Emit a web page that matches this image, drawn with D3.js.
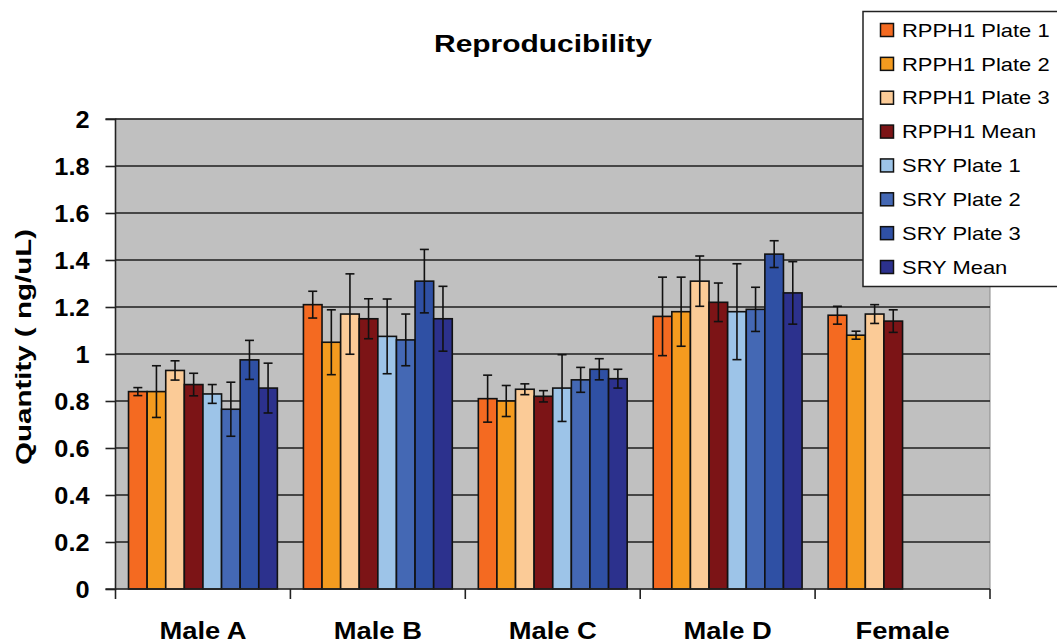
<!DOCTYPE html>
<html>
<head>
<meta charset="utf-8">
<script src="https://cdn.jsdelivr.net/npm/d3@7"></script>
<style>
  html, body { margin: 0; padding: 0; background: #fff; }
  svg { display: block; font-family: Arial, "Liberation Sans", sans-serif; }
</style>
</head>
<body>
<svg id="chart" width="1057" height="644"></svg>
<script>
// ---- Data ----
const categories = ["Male A", "Male B", "Male C", "Male D", "Female"];
const seriesNames = ["RPPH1 Plate 1", "RPPH1 Plate 2", "RPPH1 Plate 3", "RPPH1 Mean",
                     "SRY Plate 1", "SRY Plate 2", "SRY Plate 3", "SRY Mean"];
const seriesColors = ["#F46A21", "#F49B1F", "#FBCB97", "#7C1416",
                      "#9DC4E8", "#4468B4", "#2F50A4", "#2C318D"];

const rpph1Plate1 = [0.84, 1.21, 0.81, 1.16, 1.165];
const rpph1Plate1Err = [0.017, 0.057, 0.10, 0.167, 0.038];
const rpph1Plate2 = [0.84, 1.05, 0.80, 1.18, 1.08];
const rpph1Plate2Err = [0.11, 0.138, 0.066, 0.147, 0.017];
const rpph1Plate3 = [0.93, 1.17, 0.85, 1.31, 1.17];
const rpph1Plate3Err = [0.041, 0.171, 0.023, 0.107, 0.04];
const rpph1Mean = [0.87, 1.15, 0.82, 1.22, 1.14];
const rpph1MeanErr = [0.048, 0.085, 0.024, 0.082, 0.048];
const sryPlate1 = [0.83, 1.075, 0.855, 1.18, null];
const sryPlate1Err = [0.04, 0.159, 0.142, 0.204, null];
const sryPlate2 = [0.765, 1.06, 0.89, 1.19, null];
const sryPlate2Err = [0.115, 0.11, 0.053, 0.094, null];
const sryPlate3 = [0.975, 1.31, 0.935, 1.425, null];
const sryPlate3Err = [0.083, 0.135, 0.045, 0.057, null];
const sryMean = [0.855, 1.15, 0.895, 1.26, null];
const sryMeanErr = [0.106, 0.138, 0.04, 0.133, null];

const yTicks = [0, 0.2, 0.4, 0.6, 0.8, 1, 1.2, 1.4, 1.6, 1.8, 2];
const yTickLabels = ["0", "0.2", "0.4", "0.6", "0.8", "1", "1.2", "1.4", "1.6", "1.8", "2"];

const titleText = "Reproducibility";
const yAxisTitle = "Quantity ( ng/uL)";

const seriesValues = [rpph1Plate1, rpph1Plate2, rpph1Plate3, rpph1Mean,
                      sryPlate1, sryPlate2, sryPlate3, sryMean];
const seriesErrors = [rpph1Plate1Err, rpph1Plate2Err, rpph1Plate3Err, rpph1MeanErr,
                      sryPlate1Err, sryPlate2Err, sryPlate3Err, sryMeanErr];

// ---- Layout ----
const svg = d3.select("#chart");
const plot = { left: 115.5, right: 990, top: 119, bottom: 589 };

const x0 = d3.scaleBand().domain(categories).range([plot.left, plot.right]).paddingInner(0).paddingOuter(0);
const x1 = d3.scaleBand().domain(seriesNames).range([0, x0.bandwidth()]).paddingInner(0).paddingOuter(0.7);
const y = d3.scaleLinear().domain([0, 2]).range([plot.bottom, plot.top]);

// plot background
svg.append("rect")
  .attr("x", plot.left).attr("y", plot.top)
  .attr("width", plot.right - plot.left).attr("height", plot.bottom - plot.top)
  .attr("fill", "#C0C0C0").attr("stroke", "#8a8a8a").attr("stroke-width", 1);

// gridlines
svg.append("g").selectAll("line").data(yTicks.filter(d => d > 0)).join("line")
  .attr("x1", plot.left).attr("x2", plot.right)
  .attr("y1", d => y(d)).attr("y2", d => y(d))
  .attr("stroke", "#1e1e1e").attr("stroke-width", 1.6);

// bars
const flat = [];
seriesNames.forEach((s, si) => {
  categories.forEach((c, ci) => {
    const v = seriesValues[si][ci];
    if (v != null) flat.push({ s, c, v, e: seriesErrors[si][ci], color: seriesColors[si] });
  });
});

const bars = svg.append("g");
bars.selectAll("rect").data(flat).join("rect")
  .attr("x", d => x0(d.c) + x1(d.s))
  .attr("width", x1.bandwidth())
  .attr("y", d => y(d.v))
  .attr("height", d => y(0) - y(d.v))
  .attr("fill", d => d.color)
  .attr("stroke", "#111").attr("stroke-width", 1.6);

// error bars
const eb = svg.append("g").attr("stroke", "#111").attr("stroke-width", 1.6);
const cx = d => x0(d.c) + x1(d.s) + x1.bandwidth() / 2;
eb.selectAll("line.v").data(flat).join("line").attr("class", "v")
  .attr("x1", cx).attr("x2", cx)
  .attr("y1", d => y(d.v + d.e)).attr("y2", d => y(d.v - d.e));
eb.selectAll("line.t").data(flat).join("line").attr("class", "t")
  .attr("x1", d => cx(d) - 4.5).attr("x2", d => cx(d) + 4.5)
  .attr("y1", d => y(d.v + d.e)).attr("y2", d => y(d.v + d.e));
eb.selectAll("line.b").data(flat).join("line").attr("class", "b")
  .attr("x1", d => cx(d) - 4.5).attr("x2", d => cx(d) + 4.5)
  .attr("y1", d => y(d.v - d.e)).attr("y2", d => y(d.v - d.e));

// Y axis
const yAxis = d3.axisLeft(y).tickValues(yTicks).tickSize(10)
  .tickFormat((d, i) => yTickLabels[i]);
const yg = svg.append("g").attr("transform", `translate(${plot.left},0)`).call(yAxis);
yg.select(".domain").attr("stroke", "#222").attr("stroke-width", 1.6).attr("d", `M-10,${plot.top}H0V${plot.bottom + 1}`);
yg.selectAll(".tick line").attr("stroke", "#222").attr("stroke-width", 1.6);
yg.selectAll(".tick text").remove();
yg.selectAll(".tick").append("g")
  .attr("transform", "translate(-26,0) scale(1.1,1)")
  .append("text")
  .attr("text-anchor", "end").attr("dy", "0.36em")
  .attr("fill", "#000").attr("font-size", 23).attr("font-weight", "bold")
  .attr("font-family", "Arial, 'Liberation Sans', sans-serif")
  .text((d, i) => yTickLabels[i]);

// X axis
const xg = svg.append("g").attr("transform", `translate(0,${plot.bottom})`);
xg.append("line").attr("x1", plot.left - 10).attr("x2", plot.right)
  .attr("y1", 0).attr("y2", 0).attr("stroke", "#222").attr("stroke-width", 1.6);
const bounds = categories.map(c => x0(c)).concat([x0(categories[categories.length - 1]) + x0.bandwidth()]);
xg.selectAll("line.tk").data(bounds).join("line").attr("class", "tk")
  .attr("x1", d => d).attr("x2", d => d).attr("y1", 0).attr("y2", 10)
  .attr("stroke", "#222").attr("stroke-width", 1.6);
xg.selectAll("g.lbl").data(categories).join("g").attr("class", "lbl")
  .attr("transform", d => `translate(${x0(d) + x0.bandwidth() / 2},50) scale(1.14,1)`)
  .append("text").attr("text-anchor", "middle")
  .attr("font-size", 24).attr("font-weight", "bold").attr("fill", "#000")
  .text(d => d);

// Title
svg.append("text")
  .attr("x", 543).attr("y", 52)
  .attr("text-anchor", "middle")
  .attr("font-size", 24).attr("font-weight", "bold")
  .attr("textLength", 218).attr("lengthAdjust", "spacingAndGlyphs")
  .text(titleText);

// Y axis title
svg.append("text")
  .attr("transform", "translate(31,347) rotate(-90)")
  .attr("text-anchor", "middle")
  .attr("font-size", 22).attr("font-weight", "bold")
  .attr("textLength", 236).attr("lengthAdjust", "spacingAndGlyphs")
  .text(yAxisTitle);

// Legend
const lg = svg.append("g");
lg.append("rect").attr("x", 863).attr("y", 11.5).attr("width", 260).attr("height", 275)
  .attr("fill", "#fff").attr("stroke", "#222").attr("stroke-width", 1.5);
const rowY = i => 30 + i * 33.86;
lg.selectAll("rect.sw").data(seriesNames).join("rect").attr("class", "sw")
  .attr("x", 880.5).attr("y", (d, i) => rowY(i) - 6.5)
  .attr("width", 13).attr("height", 13)
  .attr("fill", (d, i) => seriesColors[i]).attr("stroke", "#111").attr("stroke-width", 1.5);
lg.selectAll("g.lt").data(seriesNames).join("g").attr("class", "lt")
  .attr("transform", (d, i) => `translate(902,${rowY(i) + 6.7}) scale(1.22,1)`)
  .append("text").attr("font-size", 18).attr("fill", "#000").text(d => d);
</script>
</body>
</html>
